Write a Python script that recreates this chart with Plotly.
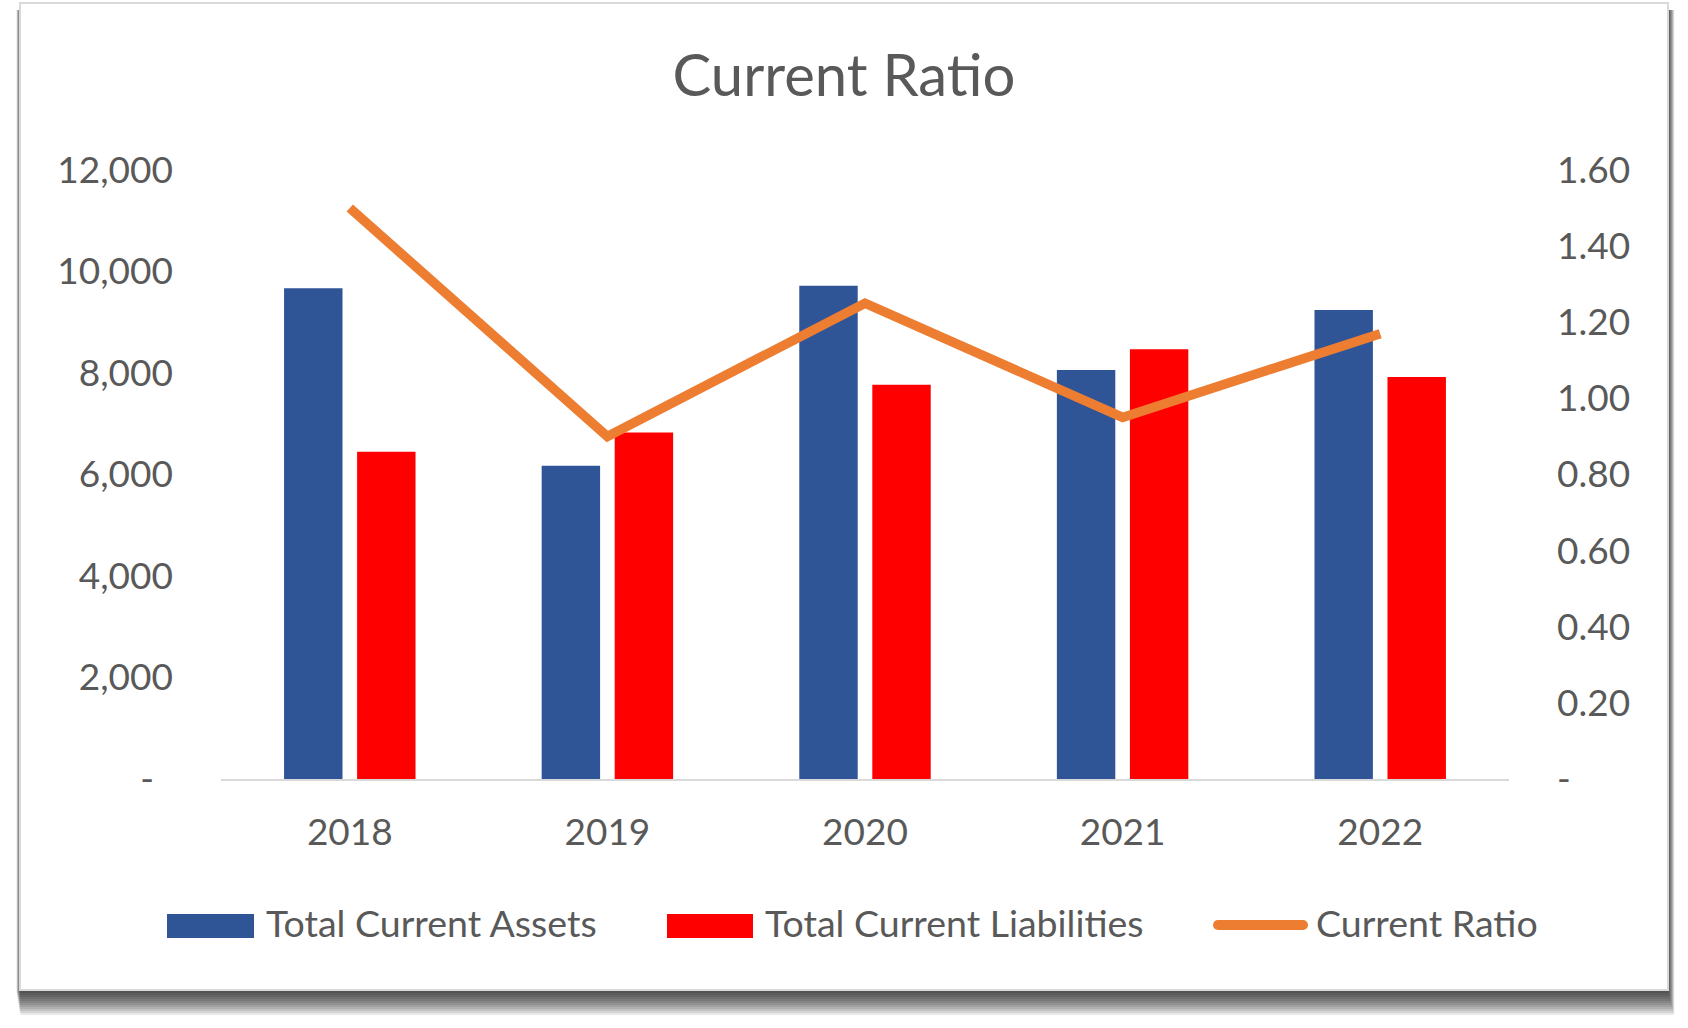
import plotly.graph_objects as go

# ---------------- data ----------------
years = ["2018", "2019", "2020", "2021", "2022"]
total_current_assets = [9670, 6170, 9720, 8060, 9240]
total_current_liabilities = [6450, 6830, 7770, 8470, 7920]
current_ratio = [1.50, 0.90, 1.25, 0.95, 1.17]
series_names = ["Total Current Assets", "Total Current Liabilities", "Current Ratio"]
chart_title = "Current Ratio"

left_tickvals = [0, 2000, 4000, 6000, 8000, 10000, 12000]
left_ticktext = ["-\u00a0\u00a0", "2,000", "4,000", "6,000", "8,000", "10,000", "12,000"]
right_tickvals = [0, 0.2, 0.4, 0.6, 0.8, 1.0, 1.2, 1.4, 1.6]
right_ticktext = ["-", "0.20", "0.40", "0.60", "0.80", "1.00", "1.20", "1.40", "1.60"]

# ---------------- style ----------------
BLUE = "#2F5597"
RED = "#FF0000"
ORANGE = "#ED7D31"
TEXT = "#595959"
FONT = "Lato"

W, H = 1688, 1028
L, R, T, B = 221, 1509, 170, 779   # plot area in page pixels


def px(x):
    return (x - L) / (R - L)


def py(y):
    return (B - y) / (B - T)


fig = go.Figure()
fig.add_trace(go.Bar(x=years, y=total_current_assets, name=series_names[0],
                     marker=dict(color=BLUE, line=dict(width=0)), showlegend=False))
fig.add_trace(go.Bar(x=years, y=total_current_liabilities, name=series_names[1],
                     marker=dict(color=RED, line=dict(width=0)), showlegend=False))
fig.add_trace(go.Scatter(x=years, y=current_ratio, name=series_names[2], yaxis="y2",
                         mode="lines", line=dict(color=ORANGE, width=9.5),
                         showlegend=False))

shapes = []
# drop shadow of the chart frame (soft gradient from stacked translucent layers)
for d in range(3, 27, 2):
    shapes.append(dict(type="rect", xref="paper", yref="paper", layer="below",
                       x0=px(16 + d / 6), x1=px(1668 + d / 4), y0=py(10), y1=py(990 + d),
                       fillcolor="rgba(0,0,0,0.085)", line=dict(width=0)))
# chart frame
shapes.append(dict(type="rect", xref="paper", yref="paper", layer="below",
                   x0=px(20), x1=px(1668), y0=py(3), y1=py(990),
                   fillcolor="white", line=dict(color="#D9D9D9", width=2)))

# legend swatches
shapes.append(dict(type="rect", xref="paper", yref="paper",
                   x0=px(167), x1=px(254), y0=py(914), y1=py(938),
                   fillcolor=BLUE, line=dict(width=0)))
shapes.append(dict(type="rect", xref="paper", yref="paper",
                   x0=px(667), x1=px(753), y0=py(914), y1=py(938),
                   fillcolor=RED, line=dict(width=0)))
shapes.append(dict(type="rect", xref="paper", yref="paper",
                   x0=px(1218), x1=px(1303), y0=py(920), y1=py(930),
                   fillcolor=ORANGE, line=dict(width=0)))
for cx in (1218, 1303):
    shapes.append(dict(type="circle", xref="paper", yref="paper",
                       x0=px(cx - 5), x1=px(cx + 5), y0=py(920), y1=py(930),
                       fillcolor=ORANGE, line=dict(width=0)))

annotations = []
for name, x0 in zip(series_names, [264, 763, 1314]):
    annotations.append(dict(text=name, xref="paper", yref="paper", x=px(x0), y=py(922),
                            xanchor="left", yanchor="middle", showarrow=False,
                            font=dict(family=FONT, size=37.5, color=TEXT)))

tickfont = dict(family=FONT, size=37, color=TEXT)

fig.update_layout(
    width=W, height=H,
    margin=dict(l=L, r=W - R, t=T, b=H - B, pad=0),
    paper_bgcolor="white", plot_bgcolor="rgba(0,0,0,0)",
    barmode="group", bargap=0.433, bargroupgap=0.2,
    title=dict(text=chart_title, x=0.5, xref="container", xanchor="center",
               y=1 - 76 / H, yref="container", yanchor="middle",
               font=dict(family=FONT, size=58, color=TEXT)),
    xaxis=dict(type="category", showgrid=False, zeroline=False, showline=True,
               linecolor="#D9D9D9", linewidth=2, ticks="", tickfont=tickfont,
               ticklabelstandoff=20),
    yaxis=dict(range=[0, 12000], tickvals=left_tickvals, ticktext=left_ticktext,
               showgrid=False, zeroline=False, showline=False, ticks="",
               tickfont=tickfont, ticklabelstandoff=47),
    yaxis2=dict(range=[0, 1.6], tickvals=right_tickvals, ticktext=right_ticktext,
                overlaying="y", side="right", showgrid=False, zeroline=False,
                showline=False, ticks="", tickfont=tickfont, ticklabelstandoff=47),
    shapes=shapes, annotations=annotations, showlegend=False,
)

fig.write_html("out.html", config={"displayModeBar": False},
               post_script="document.body.style.margin='0';")
